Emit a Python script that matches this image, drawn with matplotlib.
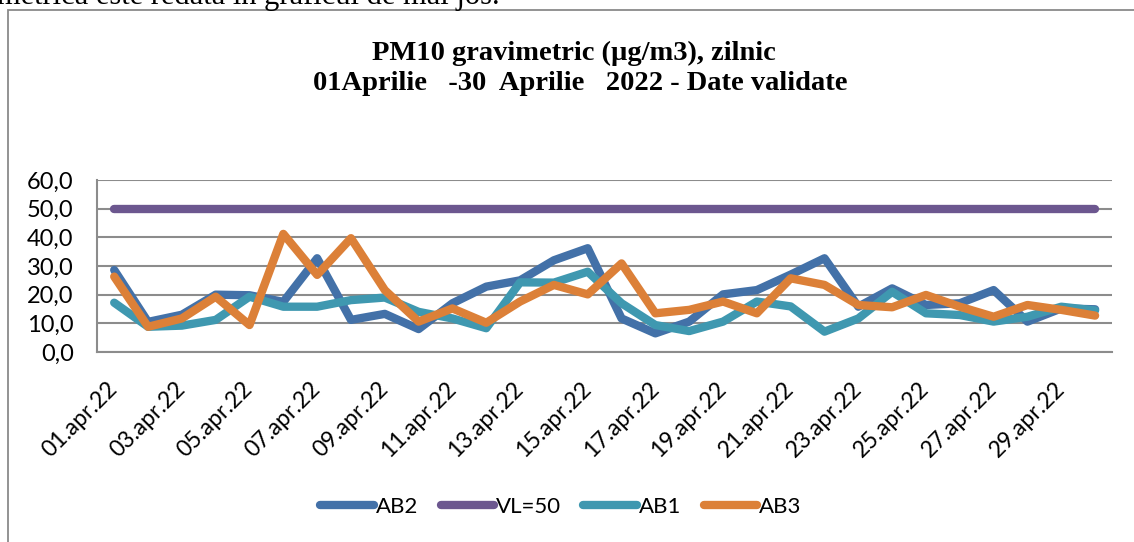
import matplotlib
matplotlib.use("Agg")
from matplotlib import pyplot as plt
from matplotlib.patches import Rectangle

# zile 01..30 aprilie 2022
days = ["%02d.apr.22" % d for d in range(1, 31)]

ab2 = [28.6, 10.5, 13.0, 20.0, 19.8, 17.5, 32.7, 11.2, 13.3, 8.0,
       17.0, 22.8, 25.0, 32.0, 36.2, 11.7, 6.5, 10.6, 20.1, 21.6,
       27.0, 32.7, 15.8, 22.2, 16.4, 17.0, 21.6, 10.6, 15.2, 14.9]
ab1 = [17.2, 8.8, 9.2, 11.2, 19.3, 15.8, 15.8, 18.1, 19.0, 14.0,
       11.7, 8.3, 24.3, 24.2, 28.0, 17.0, 9.4, 7.3, 10.6, 17.6,
       15.9, 7.1, 11.7, 21.0, 13.5, 12.9, 10.6, 12.3, 15.8, 14.5]
ab3 = [26.3, 8.8, 11.7, 19.3, 9.4, 41.2, 26.9, 39.7, 21.6, 10.6,
       15.2, 10.2, 17.6, 23.4, 20.1, 30.9, 13.5, 14.7, 17.6, 13.5,
       25.7, 23.4, 16.4, 15.6, 19.9, 15.8, 12.3, 16.4, 14.7, 12.7]
vl = [50] * 30

yticks = [0, 10, 20, 30, 40, 50, 60]

c_ab2 = "#4371a8"
c_vl = "#6c578f"
c_ab1 = "#3f98b0"
c_ab3 = "#dc8038"
grid_c = "#8c8c8c"

fig = plt.figure(figsize=(11.34, 5.42), dpi=100)

# chenarul graficului
fig.patches.append(Rectangle((8 / 1134, -0.1), 1.2, 1 - 10 / 542 + 0.1,
                             transform=fig.transFigure, fill=False,
                             edgecolor="#8a8a8a", linewidth=1.3))

# text taiat de deasupra
fig.text(-3 / 1134, 1 - 4 / 542, "metrica este redată în graficul de mai jos.",
         family="Liberation Serif", fontsize=22, va="baseline", ha="left")

fig.text(574 / 1134, 1 - 60 / 542, "PM10 gravimetric (µg/m3), zilnic",
         family="Liberation Serif", weight="bold", fontsize=20.5,
         ha="center", va="baseline")
fig.text(580 / 1134, 1 - 90 / 542, "01Aprilie   -30  Aprilie   2022 - Date validate",
         family="Liberation Serif", weight="bold", fontsize=20.5,
         ha="center", va="baseline")

ax = fig.add_axes([97.3 / 1134, 1 - 352 / 542, (1112 - 97.3) / 1134, 172 / 542])

x = list(range(len(days)))
kw = dict(linewidth=6, solid_capstyle="round", solid_joinstyle="round")
ax.plot(x, ab2, color=c_ab2, label="AB2", **kw)
ax.plot(x, vl, color=c_vl, label="VL=50", **kw)
ax.plot(x, ab1, color=c_ab1, label="AB1", **kw)
ax.plot(x, ab3, color=c_ab3, label="AB3", **kw)

ax.set_xlim(-0.5, len(days) - 0.5)
ax.set_ylim(0, 60)
ax.set_yticks(yticks)
ax.set_yticklabels([("%.1f" % v).replace(".", ",") for v in yticks],
                   fontsize=17, family="Lato")
ax.yaxis.grid(True, color=grid_c, linewidth=1.5)
ax.set_axisbelow(True)
ax.tick_params(axis="y", length=0, pad=17)

ax.set_xticks(x[::2])
ax.set_xticklabels(days[::2], rotation=45, ha="right", va="center",
                   rotation_mode="anchor", fontsize=16.5, family="Lato")
ax.tick_params(axis="x", length=0, pad=24)

for s in ["top", "right"]:
    ax.spines[s].set_visible(False)
for s in ["left", "bottom"]:
    ax.spines[s].set_color(grid_c)
    ax.spines[s].set_linewidth(1.5)

fig.legend(loc="center", bbox_to_anchor=(561 / 1134, 1 - 507 / 542), ncol=4,
           frameon=False, prop={"family": "Lato", "size": 16},
           handlelength=2.4, handletextpad=0.1, columnspacing=1.0)

fig.savefig("out.png", dpi=100)
